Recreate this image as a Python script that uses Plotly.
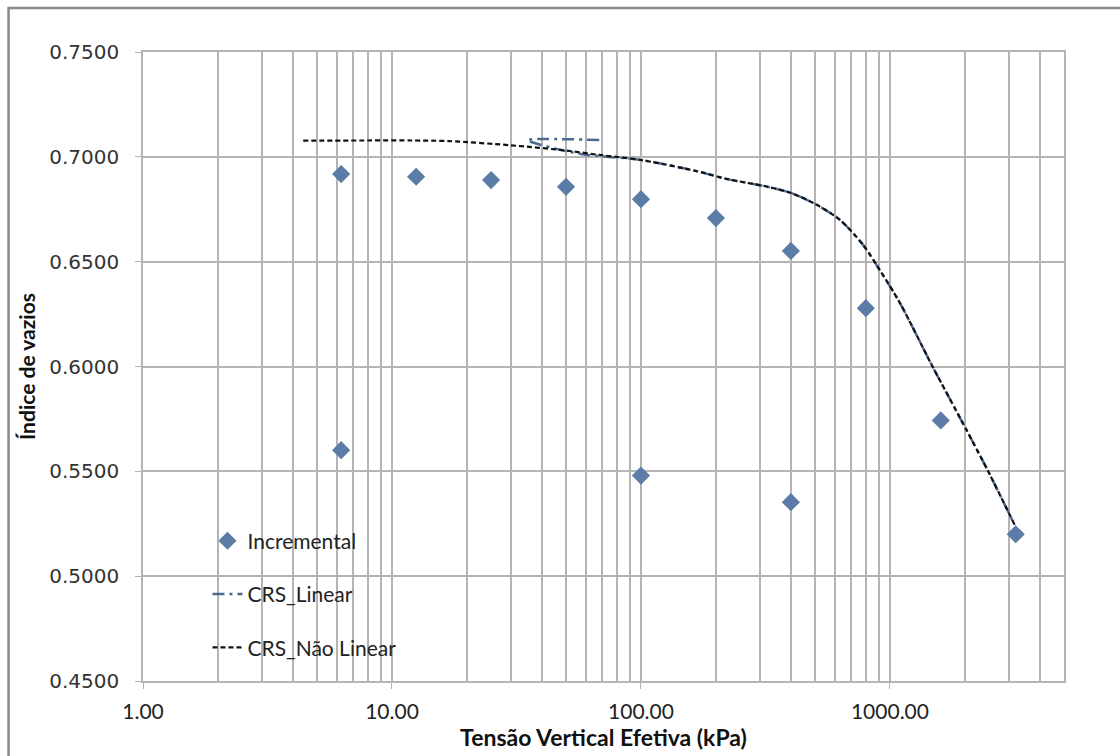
import plotly.graph_objects as go

# Incremental test (loading + unloading)
inc_x = [6.25, 12.5, 25, 50, 100, 200, 400, 800, 1600, 3200, 400, 100, 6.25]
inc_y = [0.6918, 0.6905, 0.6889, 0.6857, 0.6798, 0.6708, 0.6551, 0.6278, 0.5743, 0.5200, 0.5353, 0.5480, 0.5601]

# CRS linear
lin_x = [68, 35, 45, 60, 100, 170, 220, 320, 400, 510, 630, 780, 910, 1100, 1490, 2030, 2500, 3170]
lin_y = [0.7080, 0.7080, 0.7040, 0.7010, 0.6985, 0.6930, 0.6895, 0.6858, 0.6828, 0.6770, 0.6699, 0.6580, 0.6460, 0.6300, 0.5995, 0.5697, 0.5492, 0.5244]

# CRS nao linear
nl_x = [4.4, 8, 12, 17, 30, 50, 68, 100, 170, 220, 320, 400, 510, 630, 780, 910, 1100, 1490, 2030, 2500, 3170]
nl_y = [0.7077, 0.7078, 0.7078, 0.7075, 0.7055, 0.7030, 0.7009, 0.6985, 0.6930, 0.6895, 0.6858, 0.6828, 0.6770, 0.6699, 0.6580, 0.6460, 0.6300, 0.5995, 0.5697, 0.5492, 0.5244]

x_major = [1, 10, 100, 1000]
x_major_text = ["1.00", "10.00", "100.00", "1000.00"]
x_minor = [m * d for d in [1, 10, 100, 1000] for m in range(2, 10)]
x_minor = [v for v in x_minor if v <= 5000]
y_ticks = [0.45, 0.50, 0.55, 0.60, 0.65, 0.70, 0.75]
y_text = ["%.4f" % v for v in y_ticks]

GRID = "#b4b4b4"

fig = go.Figure()
fig.add_trace(go.Scatter(x=inc_x, y=inc_y, mode="markers", name="Incremental",
                         legendgroup="a",
                         marker=dict(symbol="diamond", size=14, color="#5b7ca6")))
fig.add_trace(go.Scatter(x=lin_x, y=lin_y, mode="lines", name="CRS_Linear",
                         legendgroup="b",
                         line=dict(color="#4a6a92", width=2.5, dash="12px,5px,3px,5px",
                                   shape="spline", smoothing=0.8)))
fig.add_trace(go.Scatter(x=nl_x, y=nl_y, mode="lines", name="CRS_Não Linear",
                         legendgroup="c",
                         line=dict(color="#111111", width=2.2, dash="5px,3px",
                                   shape="spline", smoothing=0.8)))

fig.update_layout(
    width=1120, height=756,
    margin=dict(l=143, r=56, t=52, b=75),
    paper_bgcolor="white", plot_bgcolor="white",
    showlegend=True,
    legend=dict(x=0.07, y=0.255, xanchor="left", yanchor="top",
                bgcolor="rgba(0,0,0,0)", tracegroupgap=23,
                font=dict(family="Lato", size=21, color="#222")),
    shapes=[dict(type="rect", xref="paper", yref="paper",
                 x0=-0.146, x1=1.2, y0=-0.3, y1=1.07,
                 line=dict(color="#888888", width=2.5), layer="below")],
)
fig.update_xaxes(type="log", range=[0, 3.699],
                 tickvals=x_major, ticktext=x_major_text,
                 ticks="outside", ticklen=6, tickcolor=GRID,
                 showgrid=True, gridcolor=GRID, gridwidth=1.5,
                 minor=dict(tickvals=x_minor, showgrid=True, gridcolor=GRID, gridwidth=1.5, ticks=""),
                 showline=True, linecolor=GRID, linewidth=1.5, mirror=True,
                 zeroline=False,
                 tickfont=dict(family="Lato", size=21, color="#222"),
                 ticklabelstandoff=5,
                 title=dict(text="<b>Tensão Vertical Efetiva (kPa)</b>",
                            font=dict(family="Lato", size=23, color="#111"), standoff=5))
fig.update_yaxes(range=[0.45, 0.75], tickvals=y_ticks, ticktext=y_text,
                 ticks="outside", ticklen=6, tickcolor=GRID,
                 showgrid=True, gridcolor=GRID, gridwidth=1.5,
                 showline=True, linecolor=GRID, linewidth=1.5, mirror=True,
                 zeroline=False,
                 tickfont=dict(family="DejaVu Sans", size=20, color="#333"),
                 ticklabelstandoff=12,
                 title=dict(text="<b>Índice de vazios</b>",
                            font=dict(family="Lato", size=21, color="#111"), standoff=8))

fig.write_html("out.html")
